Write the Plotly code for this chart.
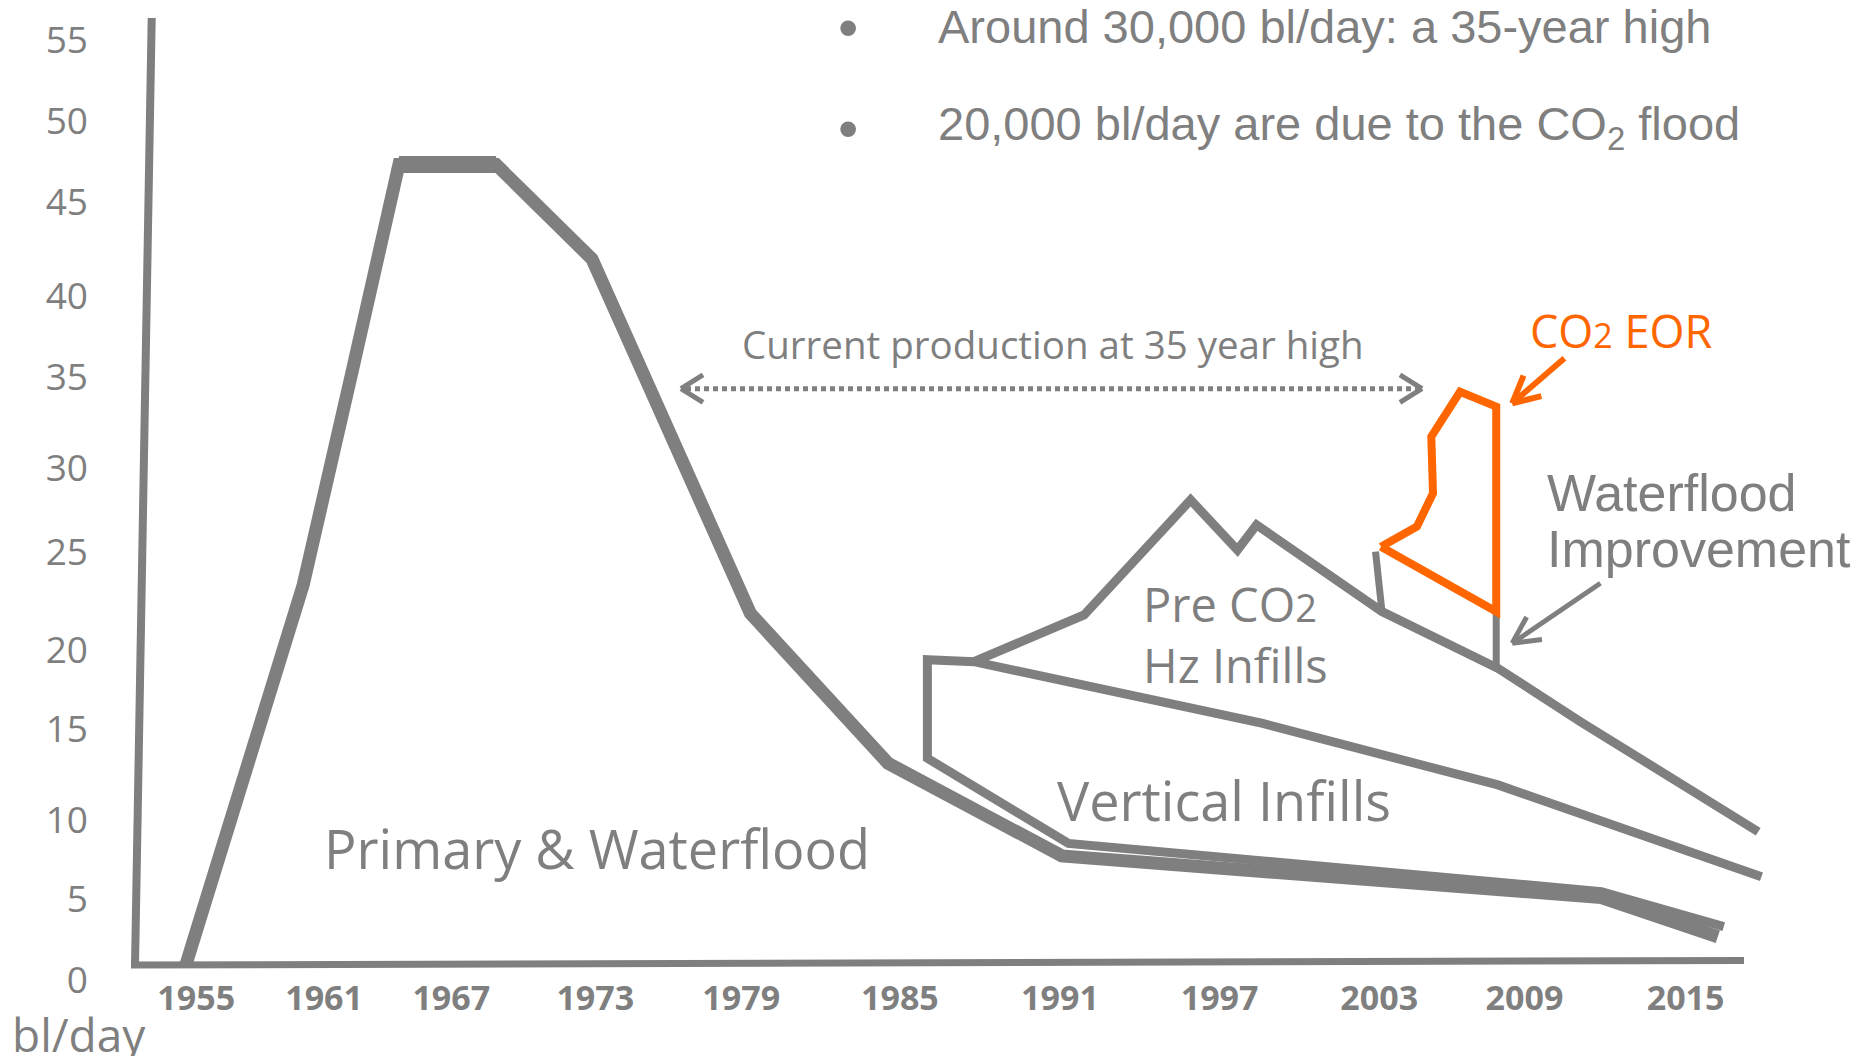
import math
import plotly.graph_objects as go

# ---------------- data (production, thousand bl/day, vs year) ----------------
primary_years = [1954.59, 1959.32, 1961.27, 1963.18, 1967.10, 1970.97, 1977.36, 1982.91, 1989.92, 2011.69, 2016.39]
primary_values = [0.9, 23.12, 35.45, 47.69, 47.69, 42.16, 21.43, 12.67, 7.25, 4.81, 2.52]

vertical_years = [2016.63, 2011.69, 1990.19, 1984.50, 1984.50, 1986.38, 1998.03, 2007.52, 2018.15]
vertical_values = [3.11, 5.16, 7.98, 12.96, 18.72, 18.61, 15.00, 11.40, 6.03]

hz_years = [1986.38, 1990.82, 1995.12, 1997.01, 1997.78, 2002.84, 2007.52, 2010.88, 2018.02]
hz_values = [18.61, 21.34, 28.07, 25.14, 26.61, 21.54, 18.22, 15.07, 8.66]

wf_years = [2002.58, 2002.84, 2007.45, 2007.45]
wf_values = [25.05, 21.54, 18.22, 21.54]

co2_years = [2002.80, 2004.25, 2004.90, 2004.83, 2005.99, 2007.45, 2007.45, 2002.80]
co2_values = [25.33, 26.51, 28.46, 31.77, 34.40, 33.53, 21.54, 25.33]

y_tick_labels = ["0", "5", "10", "15", "20", "25", "30", "35", "40", "45", "50", "55"]
y_tick_pos = [0, 4.73, 9.33, 14.65, 19.31, 25.01, 29.94, 35.26, 39.99, 45.49, 50.22, 54.95]

x_tick_labels = ["1955", "1961", "1967", "1973", "1979", "1985", "1991", "1997", "2003", "2009", "2015"]
x_tick_pos = [1955.0, 1960.16, 1965.29, 1971.10, 1976.99, 1983.39, 1989.85, 1996.29, 2002.73, 2008.59, 2015.09]

# ---------------- layout geometry ----------------
OFF = 8                      # page body margin
W, H = 1856, 1048            # figure size
ML, MR, MT, MB = 96, 10, 5, 5
# plot area expressed in page (reference) pixels
LEFT, RIGHT = ML + OFF, W - MR + OFF
TOP, BOTTOM = MT + OFF, H - MB + OFF

X1955_PX = 196.2
PX_PER_YEAR = 24.786
Y0_PX = 979.8
PX_PER_UNIT = 17.095

x_range = [1955 + (LEFT - X1955_PX) / PX_PER_YEAR, 1955 + (RIGHT - X1955_PX) / PX_PER_YEAR]
y_range = [(Y0_PX - BOTTOM) / PX_PER_UNIT, (Y0_PX - TOP) / PX_PER_UNIT]


def xd(px):
    return 1955 + (px - X1955_PX) / PX_PER_YEAR


def yd(py):
    return (Y0_PX - py) / PX_PER_UNIT


def xp(px):
    return (px - LEFT) / (RIGHT - LEFT)


def yp(py):
    return (BOTTOM - py) / (BOTTOM - TOP)


GRAY = "#7f7f7f"
ORANGE = "#ff6600"
SANS = "Open Sans, Noto Sans, sans-serif"
ARIAL = "Liberation Sans, Arial, sans-serif"

fig = go.Figure()


def add_line(xs, ys, color, width):
    fig.add_trace(go.Scatter(x=xs, y=ys, mode="lines",
                             line=dict(color=color, width=width),
                             hoverinfo="skip", showlegend=False))


add_line(primary_years, primary_values, GRAY, 13)
add_line(primary_years[3:5], primary_values[3:5], GRAY, 17)
add_line(vertical_years, vertical_values, GRAY, 9)
add_line(hz_years, hz_values, GRAY, 9)
add_line(wf_years, wf_values, GRAY, 7)
add_line(co2_years, co2_values, ORANGE, 8)

shapes = []


def seg(x0p, y0p, x1p, y1p, color, width, dash=None):
    ln = dict(color=color, width=width)
    if dash:
        ln["dash"] = dash
    shapes.append(dict(type="line", xref="x", yref="y",
                       x0=xd(x0p), y0=yd(y0p), x1=xd(x1p), y1=yd(y1p), line=ln))


def chevron(tipx, tipy, backx, backy, length, half_angle, color, width):
    ang = math.atan2(backy, backx)
    for s in (-1, 1):
        a = ang + s * math.radians(half_angle)
        seg(tipx, tipy, tipx + length * math.cos(a), tipy + length * math.sin(a), color, width)


# axis frame
seg(135, 966, 151.7, 18, GRAY, 8)
seg(131, 965, 1744, 960.5, GRAY, 7)

# dotted double arrow
seg(686, 388.7, 1417, 388.7, GRAY, 5, dash="5px,4px")
chevron(681, 388.7, 1, 0, 26, 32, GRAY, 5)
chevron(1422, 388.7, -1, 0, 26, 32, GRAY, 5)

# CO2 EOR arrow
seg(1564.4, 358.3, 1512.2, 403.3, ORANGE, 6)
chevron(1512.2, 403.3, 52.2, -45, 30, 27, ORANGE, 6)

# Waterflood improvement arrow
seg(1600.4, 583.3, 1512.2, 643.3, GRAY, 5)
chevron(1512.2, 643.3, 88.2, -60, 30, 27, GRAY, 5)

annotations = []


def label(text, xpx, ypx, size, color=GRAY, family=SANS, xanchor="center", weight="normal"):
    annotations.append(dict(text=text, x=xp(xpx), y=yp(ypx), xref="paper", yref="paper",
                            xanchor=xanchor, yanchor="middle", align="left", showarrow=False,
                            font=dict(family=family, size=size, color=color, weight=weight)))


label("Primary &amp; Waterflood", 596.8, 847.6, 54)
label("Vertical Infills", 1224.4, 800, 54)
label("Pre CO<span style='font-size:38px'>2</span><br>Hz Infills", 1141, 634.2, 47, xanchor="left")
label("Waterflood", 1545, 493.3, 52, family=ARIAL, xanchor="left")
label("Improvement", 1545, 549.2, 52, family=ARIAL, xanchor="left")
label("CO<span style='font-size:34px'>2</span> EOR", 1528, 330.5, 45, color=ORANGE, xanchor="left")
label("Current production at 35 year high", 1053.3, 343.6, 38.5)
label("•", 847.6, 26.2, 58, family=ARIAL)
label("Around 30,000 bl/day: a 35-year high", 936, 26.2, 47, family=ARIAL, xanchor="left")
label("•", 847.6, 127.2, 58, family=ARIAL)
label("20,000 bl/day are due to the CO<sub>2</sub> flood", 936, 127.2, 47, family=ARIAL, xanchor="left")
label("bl/day", 10, 1034, 46, xanchor="left")

x_axis_pos = (BOTTOM - 975) / (BOTTOM - TOP)

fig.update_layout(
    width=W, height=H,
    margin=dict(l=ML, r=MR, t=MT, b=MB),
    paper_bgcolor="white", plot_bgcolor="white",
    shapes=shapes, annotations=annotations,
    xaxis=dict(range=x_range, showgrid=False, zeroline=False, showline=False,
               anchor="free", position=x_axis_pos, ticks="",
               tickvals=x_tick_pos, ticktext=x_tick_labels,
               tickfont=dict(family=SANS, size=34, color=GRAY, weight="bold")),
    yaxis=dict(range=y_range, showgrid=False, zeroline=False, showline=False, ticks="",
               tickvals=y_tick_pos, ticktext=y_tick_labels, ticklabelstandoff=15,
               tickfont=dict(family=SANS, size=37, color=GRAY)),
)

fig.write_html("out.html")
